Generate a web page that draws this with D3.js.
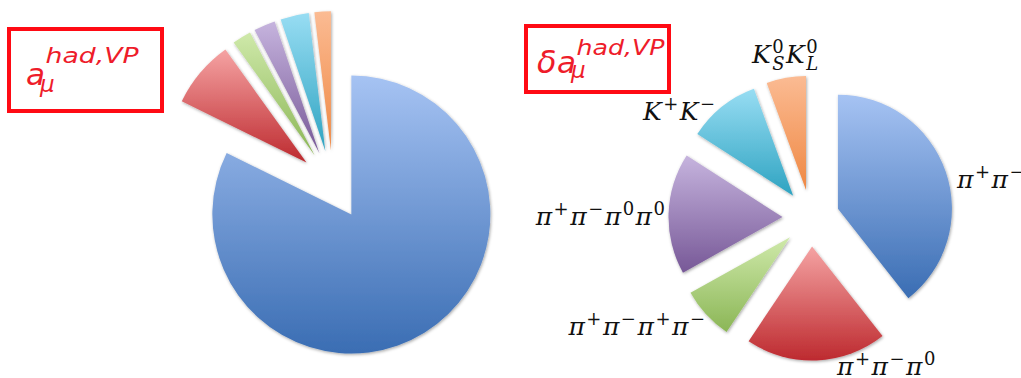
<!DOCTYPE html>
<html>
<head>
<meta charset="utf-8">
<script src="https://cdn.jsdelivr.net/npm/d3@7"></script>
<style>
  html, body { margin: 0; padding: 0; background: #fff; overflow: hidden; }
  svg { display: block; }
</style>
</head>
<body>
<svg id="chart" width="1021" height="378"></svg>
<script>
// Hadronic vacuum-polarisation channels, in pie order (clockwise from 12 o'clock)
const channels = ["pipi", "pipipi0", "pipipipi", "pipipi0pi0", "KpKm", "KsKl"];

// Share of the central value a_mu^{had,VP} (percent)
const shareValue = [82.2, 7.8, 2.2, 2.5, 3.3, 1.9];

// Share of the uncertainty delta a_mu^{had,VP} (percent)
const shareError = [39.4, 20.0, 7.5, 17.2, 10.3, 5.6];

// Channel labels as [text, role] pieces: "" base, "sup" superscript, "sub" subscript
const channelLabels = [
  [["π", ""], ["+", "sup"], ["π", ""], ["−", "sup"]],
  [["π", ""], ["+", "sup"], ["π", ""], ["−", "sup"], ["π", ""], ["0", "sup"]],
  [["π", ""], ["+", "sup"], ["π", ""], ["−", "sup"], ["π", ""], ["+", "sup"], ["π", ""], ["−", "sup"]],
  [["π", ""], ["+", "sup"], ["π", ""], ["−", "sup"], ["π", ""], ["0", "sup"], ["π", ""], ["0", "sup"]],
  [["K", ""], ["+", "sup"], ["K", ""], ["−", "sup"]],
  [["K", ""], ["0", "sup"], ["S", "sub"], ["K", ""], ["0", "sup"], ["L", "sub"]]
];

// ---- styling ----
const sliceGradients = [
  ["#a6c3f3", "#3a6db3"],
  ["#f5a3a3", "#bd2a2f"],
  ["#cfe9aa", "#8bb656"],
  ["#c6b4de", "#775897"],
  ["#98ddf3", "#2ea3c1"],
  ["#fbbb93", "#ef8843"]
];
const titleRed = "#ee1c2a";
const boxRed = "#ff0a14";

const svg = d3.select("#chart");
const defs = svg.append("defs");

sliceGradients.forEach(([top, bottom], i) => {
  const g = defs.append("linearGradient")
    .attr("id", "grad-" + i)
    .attr("x1", 0).attr("y1", 0).attr("x2", 0).attr("y2", 1);
  g.append("stop").attr("offset", "0%").attr("stop-color", top);
  g.append("stop").attr("offset", "100%").attr("stop-color", bottom);
});

const shadow = defs.append("filter").attr("id", "soft-shadow")
  .attr("x", "-20%").attr("y", "-20%").attr("width", "140%").attr("height", "140%");
shadow.append("feDropShadow")
  .attr("dx", 0.8).attr("dy", 1.2).attr("stdDeviation", 1.4)
  .attr("flood-color", "#000").attr("flood-opacity", 0.35);

const pie = d3.pie().sort(null).value(d => d.v).startAngle(0).endAngle(2 * Math.PI);

// Draws an exploded pie: every slice is pushed out along its bisector
function drawPie(values, cx, cy, radius, explode) {
  const arc = d3.arc().innerRadius(0).outerRadius(radius);
  const arcs = pie(values.map((v, i) => ({ v, i })));
  const g = svg.append("g").attr("transform", `translate(${cx},${cy})`);
  g.selectAll("path")
    .data(arcs)
    .join("path")
    .attr("d", arc)
    .attr("fill", d => `url(#grad-${d.data.i})`)
    .attr("filter", "url(#soft-shadow)")
    .attr("transform", d => {
      const mid = (d.startAngle + d.endAngle) / 2;
      const off = radius * explode;
      return `translate(${Math.sin(mid) * off},${-Math.cos(mid) * off})`;
    });
  return g;
}

// Lays out a label from its pieces, advancing by measured widths
function drawLabel(parent, parts, x, y, anchor, opt) {
  const g = parent.append("g");
  let cursor = 0;
  let lastScriptStart = null, lastScriptWidth = 0;
  parts.forEach(([txt, role]) => {
    const isScript = role !== "";
    const dy = role === "sup" ? opt.supShift : role === "sub" ? opt.subShift : 0;
    let startX = cursor;
    if (role === "sub" && lastScriptStart !== null) startX = lastScriptStart;
    const t = g.append("text")
      .attr("x", startX)
      .attr("y", dy)
      .attr("font-family", opt.family)
      .attr("font-style", isScript && txt !== "S" && txt !== "L" ? "normal" : "italic")
      .attr("font-size", isScript ? opt.scriptSize : opt.size)
      .attr("fill", opt.color)
      .text(txt);
    const w = t.node().getComputedTextLength();
    if (role === "sup") {
      lastScriptStart = startX; lastScriptWidth = w;
      cursor = startX + w + opt.gap;
    } else if (role === "sub") {
      cursor = Math.max(lastScriptStart + lastScriptWidth, startX + w) + opt.gap;
      lastScriptStart = null;
    } else {
      lastScriptStart = null;
      cursor = startX + w + opt.gap;
    }
  });
  const total = cursor - opt.gap;
  const shift = anchor === "end" ? -total : anchor === "middle" ? -total / 2 : 0;
  g.attr("transform", `translate(${x + shift},${y})`);
  return g;
}

// ---- left: central value ----
const explode = 0.25;
drawPie(shareValue, 333, 185, 139, explode);

// ---- right: uncertainty ----
const rightR = 114;
const rightCx = 811, rightCy = 218;
drawPie(shareError, rightCx, rightCy, rightR, explode);

// label anchors relative to the right pie centre: [dx, dy(baseline), anchor]
const labelLayout = [
  [146, -30, "start"],
  [26, 157, "start"],
  [-106, 117, "end"],
  [-146, 7, "end"],
  [-96, -98, "end"],
  [-59, -155, "start"]
];
const labelOpt = {
  family: "'DejaVu Serif', serif",
  size: 25, scriptSize: 18,
  supShift: -10, subShift: 7,
  gap: 1.5, color: "#111"
};
channelLabels.forEach((parts, i) => {
  const [dx, dy, anchor] = labelLayout[i];
  drawLabel(svg, parts, rightCx + dx, rightCy + dy, anchor, labelOpt);
});

// ---- title boxes ----
function titleBox(x, y, w, h) {
  svg.append("rect")
    .attr("x", x).attr("y", y).attr("width", w).attr("height", h)
    .attr("fill", "none").attr("stroke", boxRed).attr("stroke-width", 4);
}
titleBox(9, 29, 153, 82);
titleBox(526, 26, 143, 66);

const titleFont = "'DejaVu Sans', sans-serif";
function mathTitle(x, baseline, prefix, supRise, supWidth, subDrop) {
  const g = svg.append("g").attr("fill", titleRed)
    .attr("font-family", titleFont).attr("font-style", "italic");
  let cx = x;
  if (prefix) {
    const p = g.append("text").attr("x", cx).attr("y", baseline)
      .attr("font-size", 32).text(prefix);
    cx += p.node().getComputedTextLength() + 0.5;
  }
  const a = g.append("text").attr("x", cx).attr("y", baseline)
    .attr("font-size", 31).text("a");
  const aw = a.node().getComputedTextLength();
  g.append("text").attr("x", cx + aw + 0.5).attr("y", baseline - supRise)
    .attr("font-size", 22).attr("textLength", supWidth).attr("lengthAdjust", "spacingAndGlyphs")
    .text("had,VP");
  g.append("text").attr("x", cx + aw - 5).attr("y", baseline + subDrop)
    .attr("font-size", 23).text("μ");
}
mathTitle(26, 85, null, 22, 93, 7);
mathTitle(537, 73, "δ", 18, 88, 5);
</script>
</body>
</html>
